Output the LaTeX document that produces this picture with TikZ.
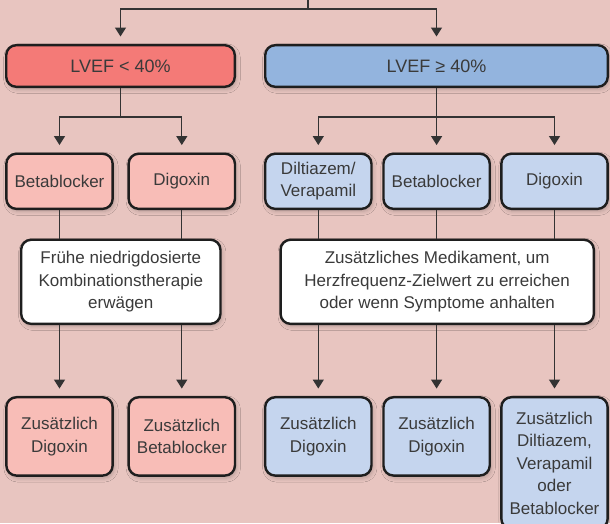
\documentclass[tikz,border=0pt]{standalone}
\usepackage{fontspec}
\setmainfont{Liberation Sans}
\usetikzlibrary{arrows.meta,shadows.blur}
\definecolor{bgc}{HTML}{E8C5C0}
\definecolor{redA}{HTML}{F47A77}
\definecolor{blueA}{HTML}{93B4DE}
\definecolor{redB}{HTML}{F8BDB7}
\definecolor{blueB}{HTML}{C5D5EE}
\definecolor{edgec}{HTML}{1E1E1E}
\definecolor{txt}{HTML}{3A3A3A}
\definecolor{wirec}{HTML}{333333}
\tikzset{
  box/.style={draw=edgec, line width=2.4pt, rounded corners=10pt, inner sep=0pt,
    align=center, text=txt, font=\fontsize{17}{22.5}\selectfont,
    blur shadow={shadow xshift=1.5pt, shadow yshift=-2.5pt, shadow blur radius=4pt, shadow opacity=22}},
  headbox/.style={box, minimum height=41.6pt, font=\fontsize{18}{22}\selectfont},
  midbox/.style={box, minimum width=106.3pt, minimum height=55.1pt},
  lowbox/.style={box, minimum width=106.3pt, minimum height=78.3pt},
  notebox/.style={box, fill=white, minimum height=84.1pt},
  wire/.style={draw=wirec, line width=1.3pt},
  arr/.style={wire, -{Triangle[width=11pt,length=9pt]}, shorten >=7.5pt},
}
\begin{document}
\begin{tikzpicture}[x=1pt,y=-1pt]
\useasboundingbox (0,0) rectangle (610,523);
\clip (0,0) rectangle (610,523);
\fill[bgc] (0,0) rectangle (610,523);

% top level
\node[headbox, fill=redA, minimum width=228.6pt] (lvefA) at (120.5,66) {LVEF < 40\%};
\node[headbox, fill=blueA, minimum width=342.6pt] (lvefB) at (436.5,66) {LVEF ≥ 40\%};

% second row
\node[midbox, fill=redB] (bA) at (59.5,181.3) {Betablocker};
\node[midbox, fill=redB] (dA) at (181.8,181.3) {Digoxin};
\node[midbox, fill=blueB] (dvB) at (318.3,181.3) {Diltiazem/\\Verapamil};
\node[midbox, fill=blueB] (bB) at (436.6,181.3) {Betablocker};
\node[midbox, fill=blueB] (dB) at (554.5,181.3) {Digoxin};

% notes
\node[notebox, minimum width=199.3pt] (wA) at (120.8,281.8) {Frühe niedrigdosierte\\Kombinationstherapie\\erwägen};
\node[notebox, minimum width=313.3pt] (wB) at (437.2,281.8) {Zusätzliches Medikament, um\\Herzfrequenz-Zielwert zu erreichen\\oder wenn Symptome anhalten};

% third row
\node[lowbox, fill=redB] (zA1) at (59.5,436.4) {Zusätzlich\\Digoxin};
\node[lowbox, fill=redB] (zA2) at (181.8,436.4) {Zusätzlich\\Betablocker};
\node[lowbox, fill=blueB] (zB1) at (318.3,436.4) {Zusätzlich\\Digoxin};
\node[lowbox, fill=blueB] (zB2) at (436.6,436.4) {Zusätzlich\\Digoxin};
\node[box, fill=blueB, minimum width=106.3pt, minimum height=131.6pt] (zB3) at (554.5,463) {Zusätzlich\\Diltiazem,\\Verapamil\\oder\\Betablocker};

% connectors: top
\coordinate (top) at (308,0);
\draw[wire] (top) -- ++(0,9) coordinate (tj);
\draw[arr] (tj) -| (lvefA.north);
\draw[arr] (tj) -| (lvefB.north);

% to second row
\draw[wire] (lvefA.south) -- ++(0,29) coordinate (sA);
\draw[arr] (sA) -| (bA.north);
\draw[arr] (sA) -| (dA.north);
\draw[wire] (lvefB.south) -- ++(0,29) coordinate (sB);
\draw[arr] (sB) -| (dvB.north);
\draw[arr] (sB) -| (bB.north);
\draw[arr] (sB) -| (dB.north);

% second row to notes
\foreach \n/\w in {bA/wA, dA/wA, dvB/wB, bB/wB, dB/wB}
  \draw[wire] (\n.south) -- (\n.south |- \w.north);

% notes to third row
\draw[arr] (bA.south |- wA.south) -- (zA1.north);
\draw[arr] (dA.south |- wA.south) -- (zA2.north);
\draw[arr] (dvB.south |- wB.south) -- (zB1.north);
\draw[arr] (bB.south |- wB.south) -- (zB2.north);
\draw[arr] (dB.south |- wB.south) -- (zB3.north);
\end{tikzpicture}
\end{document}
